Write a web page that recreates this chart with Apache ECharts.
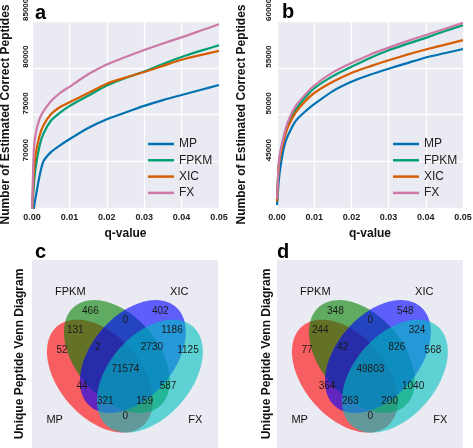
<!DOCTYPE html>
<html><head><meta charset="utf-8">
<script src="https://cdn.jsdelivr.net/npm/echarts@6/dist/echarts.min.js"></script>
<style>html,body{margin:0;padding:0;background:#fff}#main{width:473px;height:448px}</style>
</head><body><div id="main"></div>
<script>
// ---------------- DATA ----------------
const seriesNames = ['MP', 'FPKM', 'XIC', 'FX'];
const qValues = [0, 0.0005, 0.001, 0.002, 0.003, 0.005, 0.0075, 0.01, 0.015, 0.02, 0.025, 0.03, 0.035, 0.04, 0.045, 0.05];
const xTicks = [0, 0.01, 0.02, 0.03, 0.04, 0.05];

// panel a
const panelA_MP   = [63000, 65000, 66200, 68400, 69950, 70950, 71700, 72350, 73550, 74500, 75220, 75920, 76540, 77090, 77620, 78160];
const panelA_FPKM = [64500, 67500, 69400, 71600, 72900, 74300, 75200, 75900, 77000, 78100, 78900, 79600, 80400, 81150, 81800, 82400];
const panelA_XIC  = [64500, 68800, 70800, 72700, 73800, 75000, 75800, 76300, 77300, 78300, 78950, 79550, 80200, 80850, 81350, 81800];
const panelA_FX   = [64500, 71300, 73000, 74500, 75300, 76400, 77300, 77950, 79300, 80350, 81150, 81900, 82600, 83250, 83950, 84650];
const yTicksA = [65000, 70000, 75000, 80000, 85000];

// panel b
const panelB_MP   = [40300, 43000, 44600, 46700, 47800, 49300, 50300, 51100, 52500, 53500, 54250, 54900, 55500, 56100, 56550, 57000];
const panelB_FPKM = [40800, 44800, 46000, 47700, 49000, 50500, 51800, 52800, 54100, 55100, 56050, 56880, 57550, 58200, 58900, 59550];
const panelB_XIC  = [40700, 44600, 45800, 47500, 48700, 50200, 51400, 52300, 53500, 54450, 55150, 55800, 56400, 56950, 57450, 57950];
const panelB_FX   = [41000, 45000, 46300, 48000, 49300, 50900, 52100, 53100, 54500, 55500, 56400, 57150, 57850, 58500, 59150, 59800];
const yTicksB = [40000, 45000, 50000, 55000, 60000];

// venn (region code: MP FPKM XIC FX membership)
const vennRegions = ['1000','0100','0010','0001','1100','0110','0011','1110','0111','1111','1010','0101','1011','1101','1001'];
const vennCountsC = [52, 466, 402, 1125, 131, 0, 1186, 2, 2730, 71574, 44, 587, 321, 159, 0];
const vennCountsD = [77, 348, 548, 568, 244, 0, 324, 42, 826, 49803, 364, 1040, 263, 200, 0];
const vennSetNames = ['MP', 'FPKM', 'XIC', 'FX'];

// ---------------- LAYOUT / STYLE ----------------
const LINE_COLORS = ['#0072B2', '#009E73', '#D55E00', '#CC79A7'];
const VENN_COLORS = ['rgba(255,0,0,0.6)', 'rgba(0,128,0,0.6)', 'rgba(0,0,255,0.6)', 'rgba(0,191,191,0.6)'];
const VENN_ELLIPSES = [ // cx, cy, width, height, angle(deg) in venn units
  [0.350, 0.400, 0.72, 0.45, 140],
  [0.450, 0.500, 0.72, 0.45, 140],
  [0.544, 0.500, 0.72, 0.45, 40],
  [0.644, 0.400, 0.72, 0.45, 40]
];
const VENN_LABEL_POS = {
  '1000': [0.127, 0.530], '0100': [0.294, 0.729], '0010': [0.705, 0.729], '0001': [0.868, 0.530],
  '1100': [0.205, 0.632], '0110': [0.500, 0.687], '0011': [0.774, 0.632], '1110': [0.337, 0.547],
  '0111': [0.656, 0.547], '1111': [0.500, 0.435], '1010': [0.245, 0.346], '0101': [0.751, 0.349],
  '1011': [0.382, 0.273], '1101': [0.613, 0.273], '1001': [0.500, 0.193]
};
const VENN_NAME_POS = [[0.084, 0.176], [0.176, 0.828], [0.817, 0.828], [0.911, 0.176]];
const VENN_X_RANGE = [-0.0494, 1.0447];
const VENN_Y_RANGE = [0.0327, 0.9934];

const BASE_FONT = '"Liberation Sans", Arial, sans-serif';
const BG = '#EAEAF2';

// ---------------- BUILD ----------------
const chart = echarts.init(document.getElementById('main'), null, { renderer: 'canvas' });

function gridDef(left, top, width, height) {
  return { left, top, width, height, show: true, backgroundColor: BG, borderWidth: 0, outerBoundsMode: 'none', containLabel: false };
}

function lineXAxis(gridIndex) {
  return {
    gridIndex, type: 'value', min: xTicks[0], max: xTicks[xTicks.length - 1], interval: xTicks[1] - xTicks[0],
    axisLine: { show: false }, axisTick: { show: false },
    splitLine: { show: true, lineStyle: { color: '#fff', width: 1.3 } },
    axisLabel: { formatter: v => v.toFixed(2), fontWeight: 'bold', color: '#222', margin: 5, fontFamily: BASE_FONT, fontSize: 9 },
    name: 'q-value', nameLocation: 'middle', nameGap: 20,
    nameTextStyle: { fontFamily: BASE_FONT, fontWeight: 'bold', fontSize: 12, color: '#111' }
  };
}
function lineYAxis(gridIndex, ticks, margin, nameGap) {
  return {
    gridIndex, type: 'value', min: ticks[0], max: ticks[ticks.length - 1], interval: ticks[1] - ticks[0],
    axisLine: { show: false }, axisTick: { show: false },
    splitLine: { show: true, lineStyle: { color: '#fff', width: 1.3 } },
    axisLabel: { formatter: v => String(v), rotate: 90, align: 'left', verticalAlign: 'bottom', showMinLabel: false,
      fontWeight: 'bold', color: '#222', margin, fontFamily: BASE_FONT, fontSize: 8 },
    name: 'Number of Estimated Correct Peptides', nameLocation: 'middle', nameRotate: 90, nameGap,
    nameTextStyle: { fontFamily: BASE_FONT, fontWeight: 'bold', fontSize: 12, color: '#111' }
  };
}
function vennXAxis(gridIndex) {
  return { gridIndex, type: 'value', min: VENN_X_RANGE[0], max: VENN_X_RANGE[1], show: false };
}
function vennYAxis(gridIndex, nameGap) {
  return {
    gridIndex, type: 'value', min: VENN_Y_RANGE[0], max: VENN_Y_RANGE[1],
    axisLine: { show: false }, axisTick: { show: false }, axisLabel: { show: false }, splitLine: { show: false },
    name: 'Unique Peptide Venn Diagram', nameLocation: 'middle', nameRotate: 90, nameGap,
    nameTextStyle: { fontFamily: BASE_FONT, fontWeight: 'bold', fontSize: 12, color: '#111' }
  };
}

function lineSeries(axisIndex, arrays) {
  return arrays.map((arr, k) => ({
    type: 'line', name: seriesNames[k], xAxisIndex: axisIndex, yAxisIndex: axisIndex,
    data: qValues.map((q, i) => [q, arr[i]]),
    symbol: 'none', showSymbol: false, smooth: 0.2, clip: true,
    lineStyle: { width: 2.2, color: LINE_COLORS[k], join: 'round' }, itemStyle: { color: LINE_COLORS[k] },
    emphasis: { disabled: true }, silent: true
  }));
}

function ellipseSeries(axisIndex) {
  return {
    type: 'custom', xAxisIndex: axisIndex, yAxisIndex: axisIndex, silent: true, z: 2,
    data: VENN_ELLIPSES,
    renderItem: (params, api) => {
      const e = VENN_ELLIPSES[params.dataIndex];
      const a = e[2] / 2, b = e[3] / 2, phi = e[4] * Math.PI / 180;
      const pts = [];
      for (let i = 0; i < 180; i++) {
        const t = i / 180 * Math.PI * 2;
        const x = e[0] + a * Math.cos(t) * Math.cos(phi) - b * Math.sin(t) * Math.sin(phi);
        const y = e[1] + a * Math.cos(t) * Math.sin(phi) + b * Math.sin(t) * Math.cos(phi);
        pts.push(api.coord([x, y]));
      }
      return { type: 'polygon', shape: { points: pts }, style: { fill: VENN_COLORS[params.dataIndex], stroke: null } };
    }
  };
}

function vennLabelSeries(axisIndex, counts) {
  return {
    type: 'custom', xAxisIndex: axisIndex, yAxisIndex: axisIndex, silent: true, z: 5,
    data: vennRegions.map((r, i) => [VENN_LABEL_POS[r][0], VENN_LABEL_POS[r][1], counts[i]]),
    renderItem: (params, api) => {
      const p = api.coord([api.value(0), api.value(1)]);
      return { type: 'text', x: p[0], y: p[1], style: { text: String(api.value(2)), fill: '#1a1a1a', fontSize: 10, fontFamily: BASE_FONT, align: 'center', verticalAlign: 'middle' } };
    }
  };
}
function vennNameSeries(axisIndex) {
  return {
    type: 'custom', xAxisIndex: axisIndex, yAxisIndex: axisIndex, silent: true, z: 5,
    data: vennSetNames.map((n, i) => [VENN_NAME_POS[i][0], VENN_NAME_POS[i][1], i]),
    renderItem: (params, api) => {
      const p = api.coord([api.value(0), api.value(1)]);
      return { type: 'text', x: p[0], y: p[1], style: { text: vennSetNames[params.dataIndex], fill: '#111', fontSize: 11, fontFamily: BASE_FONT, align: 'center', verticalAlign: 'middle' } };
    }
  };
}

function legendDef(left) {
  return {
    left, top: 133, orient: 'vertical', data: seriesNames, icon: 'rect', itemWidth: 26, itemHeight: 2.5, itemGap: 4.3,
    selectedMode: false, textStyle: { fontSize: 12, fontFamily: BASE_FONT, color: '#222' }
  };
}

function letter(text, left, top) {
  return { type: 'text', left, top, z: 10, style: { text, font: 'bold 20px "Liberation Sans", Arial, sans-serif', fill: '#000' } };
}

const option = {
  animation: false,
  backgroundColor: '#fff',
  grid: [gridDef(32, 21, 187, 187), gridDef(277, 21, 186, 187), gridDef(32, 260, 186, 188), gridDef(277, 260, 186, 188)],
  xAxis: [lineXAxis(0), lineXAxis(1), vennXAxis(2), vennXAxis(3)],
  yAxis: [lineYAxis(0, yTicksA, 2, 20), lineYAxis(1, yTicksB, 4, 29), vennYAxis(2, 6), vennYAxis(3, 4)],
  legend: [legendDef(143), legendDef(388)],
  series: [
    ...lineSeries(0, [panelA_MP, panelA_FPKM, panelA_XIC, panelA_FX]),
    ...lineSeries(1, [panelB_MP, panelB_FPKM, panelB_XIC, panelB_FX]),
    ellipseSeries(2), vennLabelSeries(2, vennCountsC), vennNameSeries(2),
    ellipseSeries(3), vennLabelSeries(3, vennCountsD), vennNameSeries(3)
  ],
  graphic: [letter('a', 35, 3), letter('b', 282, 2), letter('c', 35, 242), letter('d', 277, 242)]
};
chart.setOption(option);
</script></body></html>
